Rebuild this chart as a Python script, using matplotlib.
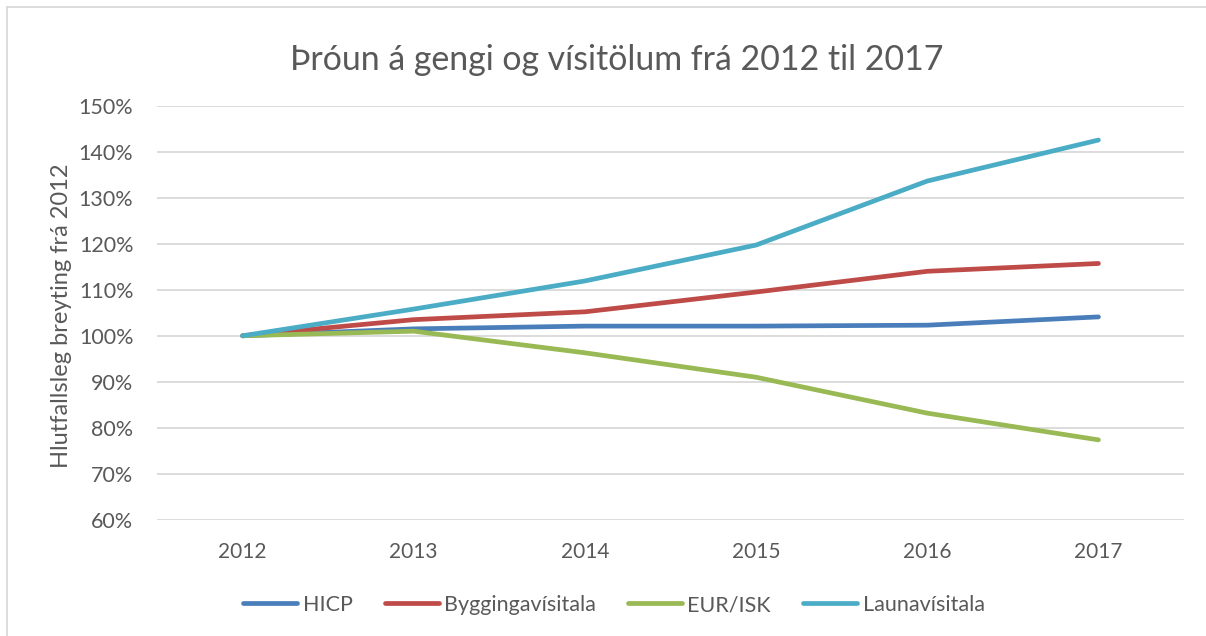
import matplotlib
matplotlib.use("Agg")
import matplotlib.pyplot as plt
from matplotlib.lines import Line2D
from matplotlib.ticker import FuncFormatter

years = ["2012", "2013", "2014", "2015", "2016", "2017"]
hicp = [100.0, 101.5, 102.1, 102.1, 102.3, 104.1]
bygging = [100.0, 103.5, 105.2, 109.5, 114.0, 115.7]
eur_isk = [100.0, 101.0, 96.3, 91.0, 83.2, 77.4]
launa = [100.0, 105.8, 111.9, 119.7, 133.6, 142.5]

series = [
    ("HICP", hicp, "#4A7EBB"),
    ("Byggingavísitala", bygging, "#BE4B48"),
    ("EUR/ISK", eur_isk, "#98B954"),
    ("Launavísitala", launa, "#4BACC6"),
]

txt = "#595959"
plt.rcParams['font.family'] = ['Lato', 'DejaVu Sans']

fig = plt.figure(figsize=(12.06, 6.36), dpi=100)
ax = fig.add_axes([157/1206, 1-520/636, (1184-157)/1206, (520-105.5)/636])

x = list(range(len(years)))
for name, vals, col in series:
    ax.plot(x, vals, color=col, lw=3.4, solid_capstyle='round', label=name, zorder=3)

ax.set_xlim(-0.5, len(years) - 0.5)
ax.set_ylim(60, 150)
ax.set_yticks(range(60, 151, 10))
ax.yaxis.set_major_formatter(FuncFormatter(lambda v, p: f"{int(v)}%"))
ax.set_xticks(x)
ax.set_xticklabels(years)
ax.grid(axis='y', color='#D9D9D9', lw=1.3)
ax.set_axisbelow(True)
for s in ax.spines.values():
    s.set_visible(False)
ax.tick_params(axis='both', length=0, colors=txt)
ax.tick_params(axis='y', pad=17, labelsize=15.5)
ax.tick_params(axis='x', pad=16, labelsize=15)

ax.set_ylabel("Hlutfallsleg breyting frá 2012", fontsize=17, color=txt)
ax.yaxis.set_label_coords(-0.083, 0.493)

fig.text(617/1206, 1-60/636, "Þróun á gengi og vísitölum frá 2012 til 2017",
         ha='center', va='center', fontsize=24.4, color=txt)

handles = [Line2D([0], [0], color=c, lw=3.4, solid_capstyle='round') for _, _, c in series]
leg = fig.legend(handles, [n for n, _, _ in series], loc='center',
                 bbox_to_anchor=(614/1206, 1-605/636), ncol=4, frameon=False,
                 fontsize=15.5, handlelength=2.5, handletextpad=0.25, columnspacing=1.5)
for t in leg.get_texts():
    t.set_color(txt)

fig.add_artist(Line2D([7/1206, 7/1206], [0, 1-7/636], color='#D9D9D9', lw=1.3,
                      transform=fig.transFigure))
fig.add_artist(Line2D([7/1206, 1], [1-7/636, 1-7/636], color='#D9D9D9', lw=1.3,
                      transform=fig.transFigure))

fig.savefig("out.png", dpi=100)
